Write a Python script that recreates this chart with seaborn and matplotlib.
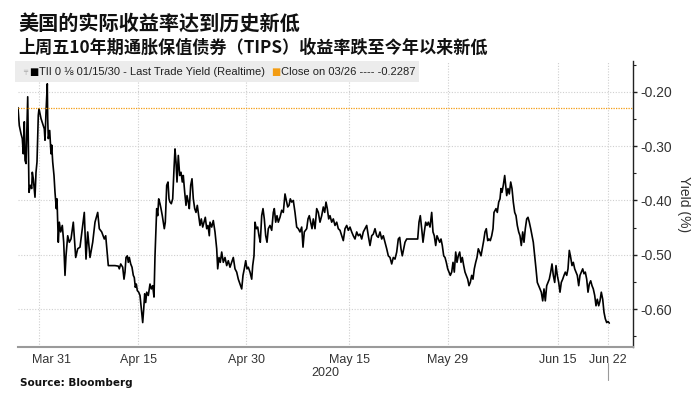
import matplotlib
matplotlib.use("Agg")
import matplotlib.pyplot as plt
import matplotlib.transforms as mtransforms
from matplotlib.patches import Rectangle
import seaborn as sns

# x = trading days counted from the Mar 31 open, y = real yield (%)
days_mar = [-2.10, -1.97, -1.80, -1.67, -1.57, -1.47, -1.40, -1.30, -1.13, -1.00,
            -0.87, -0.73, -0.67, -0.57, -0.40, -0.30, -0.20, -0.07, 0.00, 0.20,
            0.43, 0.53, 0.60, 0.70, 0.83, 0.87, 0.93, 1.07, 1.20, 1.27,
            1.37, 1.50, 1.60, 1.73, 1.80, 1.87, 1.93, 2.03, 2.17, 2.33,
            2.47, 2.60, 2.70, 2.87, 3.03, 3.20, 3.43, 3.67, 3.87, 4.10,
            4.37, 4.53, 4.70, 4.87, 5.10, 5.37, 5.60, 5.87, 6.03, 6.27,
            6.53, 6.67, 6.93, 7.60]
yld_mar = [-0.229, -0.262, -0.277, -0.286, -0.314, -0.255, -0.326, -0.332, -0.209, -0.385,
           -0.372, -0.378, -0.348, -0.360, -0.394, -0.348, -0.329, -0.243, -0.231, -0.249,
           -0.262, -0.268, -0.289, -0.237, -0.185, -0.249, -0.286, -0.271, -0.314, -0.298,
           -0.329, -0.354, -0.385, -0.415, -0.397, -0.440, -0.477, -0.440, -0.458, -0.446,
           -0.477, -0.538, -0.502, -0.465, -0.477, -0.471, -0.440, -0.505, -0.489, -0.486,
           -0.446, -0.422, -0.508, -0.458, -0.505, -0.477, -0.440, -0.422, -0.452, -0.458,
           -0.471, -0.465, -0.520, -0.520]

days_apr = [7.93, 8.03, 8.17, 8.37, 8.50, 8.60, 8.70, 8.83, 8.93, 9.03,
            9.17, 9.30, 9.43, 9.53, 9.63, 9.73, 9.83, 9.97, 10.10, 10.23,
            10.37, 10.47, 10.57, 10.67, 10.77, 10.93, 11.10, 11.23, 11.37, 11.50,
            11.60, 11.70, 11.77, 11.87, 11.97, 12.10, 12.20, 12.33, 12.43, 12.53,
            12.63, 12.77, 12.90, 13.00, 13.10, 13.23, 13.37, 13.50, 13.60, 13.70,
            13.80, 13.93, 14.07, 14.20, 14.33, 14.43, 14.57, 14.70, 14.80, 14.93,
            15.03, 15.17, 15.30, 15.43, 15.57, 15.70, 15.83, 15.97, 16.10, 16.23,
            16.37, 16.50, 16.63, 16.77, 16.90, 17.03]
yld_apr = [-0.521, -0.526, -0.517, -0.523, -0.545, -0.532, -0.505, -0.502, -0.514, -0.505,
           -0.517, -0.523, -0.538, -0.542, -0.560, -0.554, -0.566, -0.569, -0.575, -0.600,
           -0.625, -0.600, -0.572, -0.588, -0.569, -0.575, -0.554, -0.563, -0.557, -0.578,
           -0.502, -0.452, -0.415, -0.428, -0.397, -0.406, -0.415, -0.428, -0.440, -0.452,
           -0.440, -0.372, -0.366, -0.397, -0.403, -0.406, -0.397, -0.342, -0.305, -0.329,
           -0.366, -0.317, -0.354, -0.348, -0.366, -0.354, -0.385, -0.409, -0.391, -0.403,
           -0.415, -0.372, -0.360, -0.397, -0.415, -0.422, -0.409, -0.428, -0.446, -0.434,
           -0.449, -0.440, -0.431, -0.452, -0.446, -0.465]

days_late_apr = [17.10, 17.27, 17.43, 17.60, 17.77, 17.87, 18.00, 18.13, 18.27, 18.43,
                 18.60, 18.77, 18.93, 19.10, 19.27, 19.43, 19.60, 19.77, 19.93, 20.10,
                 20.27, 20.40, 20.53, 20.67, 20.80, 20.93, 21.10, 21.27, 21.37, 21.50,
                 21.60, 21.73, 21.87, 22.00, 22.13, 22.27, 22.40, 22.53, 22.67, 22.80,
                 22.93, 23.10, 23.27, 23.43, 23.53, 23.67, 23.80, 23.93, 24.10, 24.27,
                 24.43, 24.60, 24.73, 24.87, 25.00, 25.13, 25.27, 25.43, 25.60, 25.77,
                 25.93, 26.10, 26.27, 26.40, 26.53]
yld_late_apr = [-0.440, -0.449, -0.437, -0.458, -0.489, -0.526, -0.505, -0.514, -0.495, -0.514,
                -0.505, -0.520, -0.511, -0.523, -0.514, -0.505, -0.526, -0.532, -0.545, -0.554,
                -0.563, -0.538, -0.526, -0.511, -0.526, -0.523, -0.532, -0.545, -0.520, -0.502,
                -0.440, -0.452, -0.449, -0.465, -0.477, -0.428, -0.415, -0.434, -0.465, -0.477,
                -0.452, -0.446, -0.455, -0.422, -0.415, -0.440, -0.428, -0.440, -0.431, -0.418,
                -0.422, -0.388, -0.400, -0.412, -0.409, -0.397, -0.403, -0.400, -0.422, -0.449,
                -0.452, -0.458, -0.449, -0.486, -0.458]

days_may = [26.77, 26.90, 27.03, 27.17, 27.30, 27.43, 27.60, 27.77, 27.93, 28.10,
            28.27, 28.43, 28.57, 28.70, 28.83, 28.97, 29.10, 29.27, 29.43, 29.60,
            29.77, 29.93, 30.10, 30.27, 30.43, 30.60, 30.77, 30.93, 31.10, 31.27,
            31.43, 31.60, 31.77, 31.93, 32.10, 32.27, 32.43, 32.60, 32.77, 32.93,
            33.10, 33.27, 33.43, 33.60, 33.77, 33.93, 34.10, 34.27, 34.43, 34.60,
            34.77, 34.93, 35.10, 35.27, 35.43, 35.60, 35.77, 35.93]
yld_may = [-0.452, -0.434, -0.428, -0.440, -0.452, -0.434, -0.452, -0.415, -0.422, -0.440,
           -0.428, -0.412, -0.422, -0.403, -0.415, -0.434, -0.428, -0.440, -0.434, -0.446,
           -0.440, -0.452, -0.455, -0.465, -0.474, -0.452, -0.446, -0.455, -0.449, -0.458,
           -0.465, -0.471, -0.458, -0.465, -0.462, -0.471, -0.458, -0.452, -0.446, -0.465,
           -0.483, -0.465, -0.462, -0.452, -0.465, -0.468, -0.458, -0.471, -0.465, -0.477,
           -0.489, -0.502, -0.505, -0.517, -0.505, -0.508, -0.495, -0.471]

days_late_may = [36.07, 36.20, 36.33, 36.47, 36.60, 36.77, 37.27, 37.87, 38.00, 38.13,
                 38.27, 38.40, 38.53, 38.67, 38.80, 38.93, 39.10, 39.27, 39.40, 39.53,
                 39.67, 39.80, 39.93, 40.07, 40.20, 40.33, 40.47, 40.60, 40.73, 40.87,
                 41.00, 41.13, 41.27, 41.40, 41.53, 41.67, 41.80, 41.93, 42.07, 42.20,
                 42.33, 42.47, 42.60, 42.73, 42.87, 43.00, 43.13, 43.27, 43.40, 43.53,
                 43.67, 43.80, 43.93, 44.07, 44.20, 44.33, 44.47, 44.60, 44.73, 44.87,
                 45.00, 45.13, 45.27, 45.40, 45.50]
yld_late_may = [-0.468, -0.489, -0.502, -0.489, -0.477, -0.471, -0.471, -0.471, -0.440, -0.428,
                -0.452, -0.477, -0.458, -0.440, -0.446, -0.440, -0.449, -0.422, -0.458, -0.465,
                -0.483, -0.465, -0.471, -0.477, -0.471, -0.483, -0.502, -0.505, -0.514, -0.526,
                -0.532, -0.538, -0.532, -0.514, -0.532, -0.495, -0.514, -0.502, -0.495, -0.514,
                -0.505, -0.520, -0.532, -0.538, -0.545, -0.557, -0.551, -0.538, -0.545, -0.526,
                -0.514, -0.505, -0.489, -0.495, -0.502, -0.489, -0.474, -0.458, -0.452, -0.474,
                -0.471, -0.474, -0.465, -0.452, -0.422]

days_jun = [45.70, 45.83, 45.97, 46.10, 46.20, 46.30, 46.43, 46.57, 46.67, 46.77,
            46.90, 47.03, 47.17, 47.30, 47.43, 47.57, 47.70, 47.83, 47.97, 48.10,
            48.23, 48.37, 48.50, 48.63, 48.77, 48.90, 49.03, 49.17, 49.30, 49.43,
            49.57, 49.70, 49.83, 49.97, 50.10, 50.23, 50.37, 50.50, 50.63, 50.77,
            50.90, 51.03, 51.17, 51.30, 51.43, 51.57, 51.70, 51.83, 51.97, 52.10,
            52.23, 52.37, 52.50, 52.63, 52.77, 52.90, 53.03, 53.17, 53.30, 53.43,
            53.57, 53.70, 53.83, 53.97, 54.10, 54.23, 54.37, 54.50, 54.63, 54.77,
            54.90, 55.03, 55.17, 55.30, 55.43, 55.57, 55.70, 55.83, 55.97, 56.10,
            56.23, 56.37, 56.50, 56.63, 56.77, 56.90, 57.03]
yld_jun = [-0.415, -0.422, -0.403, -0.397, -0.378, -0.385, -0.372, -0.354, -0.372, -0.391,
           -0.378, -0.388, -0.366, -0.378, -0.403, -0.422, -0.428, -0.446, -0.458, -0.465,
           -0.483, -0.458, -0.477, -0.452, -0.434, -0.431, -0.440, -0.452, -0.465, -0.477,
           -0.502, -0.526, -0.551, -0.557, -0.563, -0.569, -0.585, -0.563, -0.585, -0.557,
           -0.551, -0.545, -0.532, -0.517, -0.538, -0.551, -0.520, -0.538, -0.551, -0.569,
           -0.551, -0.545, -0.538, -0.532, -0.538, -0.526, -0.492, -0.505, -0.520, -0.514,
           -0.526, -0.532, -0.538, -0.557, -0.538, -0.532, -0.526, -0.535, -0.532, -0.545,
           -0.569, -0.554, -0.548, -0.557, -0.563, -0.575, -0.594, -0.582, -0.594, -0.585,
           -0.569, -0.582, -0.606, -0.618, -0.625, -0.623, -0.626]

close_0326 = -0.2287

tick_days = [0.0, 9.93, 20.7, 31.0, 40.87, 51.9, 56.93]
tick_labels = ["Mar 31", "Apr 15", "Apr 30", "May 15", "May 29", "Jun 15", "Jun 22"]
minor_days = [5.1, 15.1, 26.0, 36.05, 46.9]
y_ticks = [-0.20, -0.30, -0.40, -0.50, -0.60]

days = days_mar + days_apr + days_late_apr + days_may + days_late_may + days_jun
yields = yld_mar + yld_apr + yld_late_apr + yld_may + yld_late_may + yld_jun
assert len(days) == len(yields)

sns.set_style("white")
plt.rcParams['font.family'] = ['Noto Sans CJK SC', 'DejaVu Sans']
narrow = ['Liberation Sans Narrow', 'Liberation Sans', 'DejaVu Sans']

W, H = 691, 398
fig = plt.figure(figsize=(W / 100, H / 100), dpi=100)
ax = fig.add_axes([18 / W, 1 - 347 / H, (633 - 18) / W, (347 - 61) / H])

sns.lineplot(x=days, y=yields, ax=ax, color='black', linewidth=1.2,
             sort=False, estimator=None)
ax.axhline(close_0326, color='#f39c12', linewidth=0.9, linestyle=(0, (1, 1)))

ax.set_xlim(-2.1, 59.4)
ax.set_ylim(-0.670, -0.143)

# axes styling
for s in ['left', 'top']:
    ax.spines[s].set_visible(False)
ax.spines['right'].set_color('#222222')
ax.spines['right'].set_linewidth(1.0)
ax.spines['bottom'].set_color('#9a9a9a')
ax.spines['bottom'].set_linewidth(1.5)

ax.yaxis.tick_right()
ax.yaxis.set_label_position('right')
ax.set_yticks(y_ticks)
ax.set_yticks([-0.15, -0.25, -0.35, -0.45, -0.55, -0.65], minor=True)
ax.set_yticklabels([f"{v:.2f}" for v in y_ticks], family=narrow, fontsize=10, color='#333333')
ax.tick_params(axis='y', which='major', direction='out', length=3, width=1, color='#222222', pad=2)
ax.tick_params(axis='y', which='minor', direction='out', length=2, width=0.8, color='#222222')
ax.set_ylabel("Yield (%)", rotation=270, labelpad=14, fontsize=10, color='#333333', family=narrow)

ax.set_xticks(tick_days)
ax.set_xticks(minor_days, minor=True)
ax.set_xticklabels(tick_labels, family=narrow, fontsize=9, color='#333333')
ax.tick_params(axis='x', which='both', direction='out', length=3, width=0.8, color='#9a9a9a', pad=2)
ax.set_xlabel("2020", family=narrow, fontsize=9, color='#333333', labelpad=1)

# shift first date label like the terminal does
lbl = ax.get_xticklabels()[0]
lbl.set_transform(lbl.get_transform() + mtransforms.ScaledTranslation(0.12, 0, fig.dpi_scale_trans))

ax.grid(True, which='major', color='#cfcfcf', linestyle=(0, (1, 1.5)), linewidth=0.8)
ax.set_axisbelow(True)

# little marker under the last date
ax.plot([56.93, 56.93], [-0.70, -0.73], color='#9a9a9a', linewidth=0.8,
        transform=ax.transData, clip_on=False)

# legend strip
fig.patches.append(Rectangle((15 / W, 1 - 82 / H), (419 - 15) / W, 21 / H,
                             transform=fig.transFigure, facecolor='#ececec',
                             edgecolor='none', zorder=5))
ly = 1 - 72 / H
fig.text(23 / W, ly, "╤", fontsize=5, color='#aaaaaa', va='center', family=['DejaVu Sans'], zorder=6)
fig.text(29 / W, ly, "■", fontsize=7, color='black', va='center', family=['DejaVu Sans'], zorder=6)
fig.text(39 / W, ly, "TII 0 ⅛ 01/15/30 - Last Trade Yield (Realtime)", fontsize=8,
         color='#222222', va='center', family=narrow, zorder=6)
fig.text(271 / W, ly, "■", fontsize=7, color='#f39c12', va='center', family=['DejaVu Sans'], zorder=6)
fig.text(281 / W, ly, "Close on 03/26 ---- -0.2287", fontsize=8,
         color='#222222', va='center', family=narrow, zorder=6)

# titles
fig.text(18 / W, 1 - 24 / H, "美国的实际收益率达到历史新低", fontsize=14.5,
         fontweight='bold', va='center', color='#111111')
fig.text(18 / W, 1 - 48 / H, "上周五10年期通胀保值债券（TIPS）收益率跌至今年以来新低",
         fontsize=12.3, fontweight='bold', va='center', color='#111111')
fig.text(20 / W, 1 - 383 / H, "Source: Bloomberg", fontsize=7.5, fontweight='bold',
         va='center', color='#111111', family=['DejaVu Sans'])

fig.savefig("out.png", dpi=100)
